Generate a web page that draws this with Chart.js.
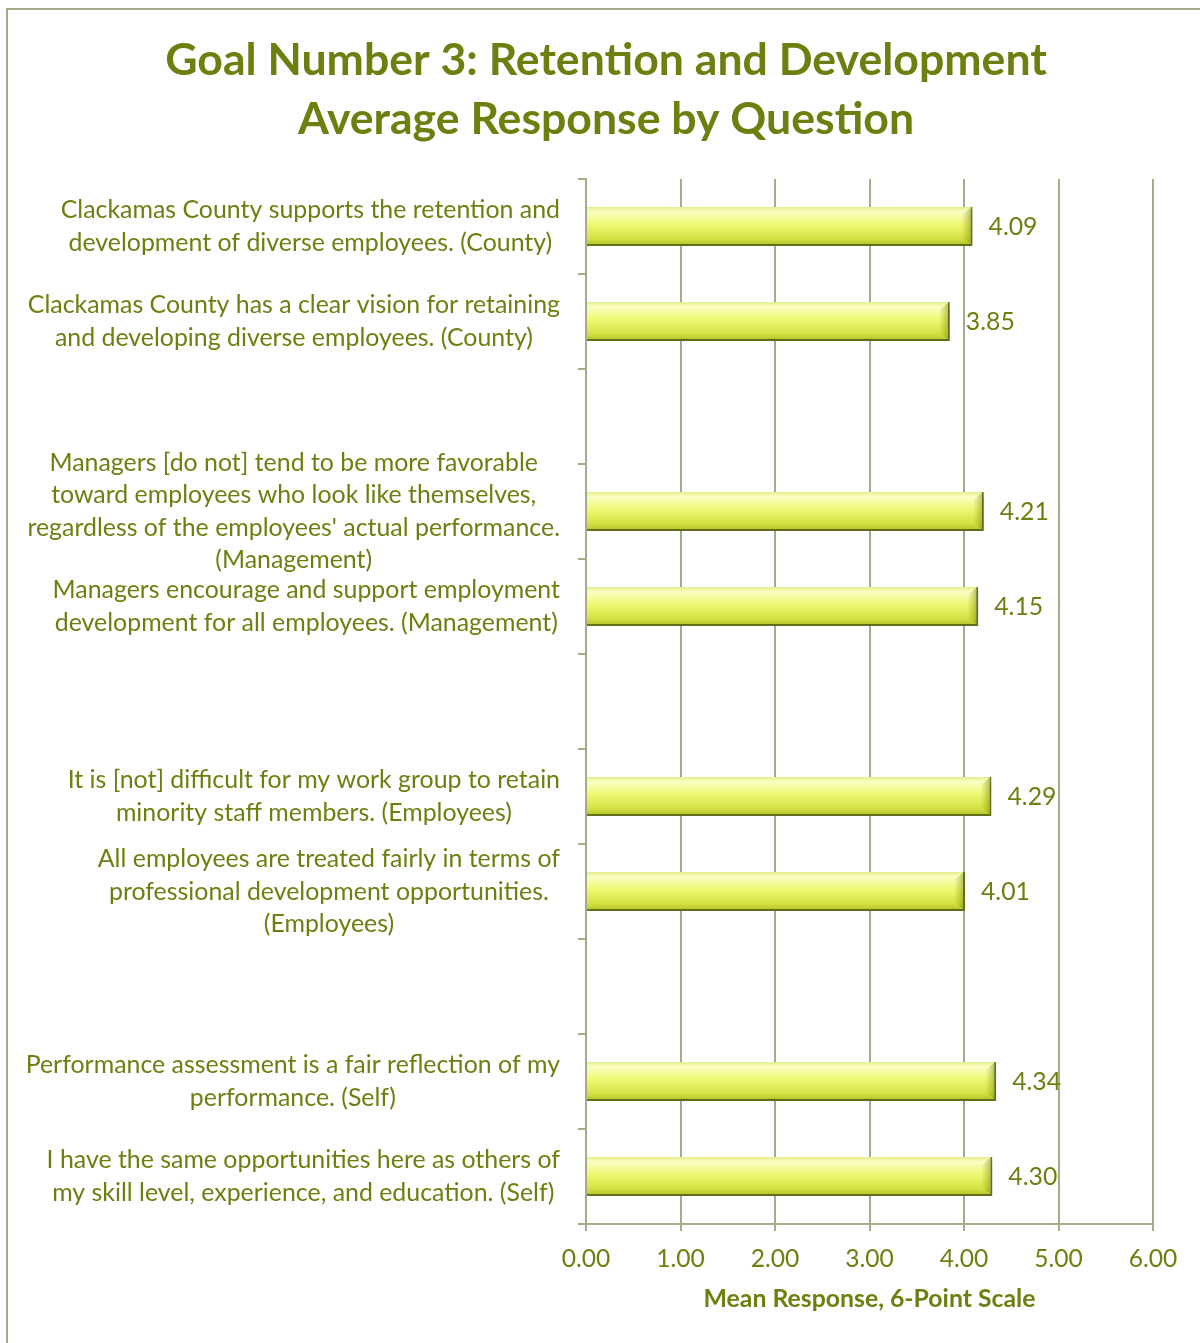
<!DOCTYPE html>
<html>
<head>
<meta charset="utf-8">
<script src="https://cdn.jsdelivr.net/npm/chart.js@4.4.1/dist/chart.umd.min.js"></script>
<style>
  html, body { margin: 0; padding: 0; background: #fff; overflow: hidden; }
  #wrap { position: relative; width: 1200px; height: 1343px; }
</style>
</head>
<body>
<div id="wrap"><canvas id="chart" width="1200" height="1343"></canvas></div>
<script>
// ---- chart content ----
const chartTitle = ['Goal Number 3: Retention and Development', 'Average Response by Question'];
const axisTitle = 'Mean Response, 6-Point Scale';

// question labels; empty strings are spacer rows between question groups
const categories = [
  ['Clackamas County supports the retention and', 'development of diverse employees. (County)'],
  ['Clackamas County has a clear vision for retaining', 'and developing diverse employees. (County)'],
  '',
  ['Managers [do not] tend to be more favorable', 'toward employees who look like themselves,', "regardless of the employees' actual performance.", '(Management)'],
  ['Managers encourage and support employment', 'development for all employees. (Management)'],
  '',
  ['It is [not] difficult for my work group to retain', 'minority staff members. (Employees)'],
  ['All employees are treated fairly in terms of', 'professional development opportunities.', '(Employees)'],
  '',
  ['Performance assessment is a fair reflection of my', 'performance. (Self)'],
  ['I have the same opportunities here as others of', 'my skill level, experience, and education. (Self)']
];
const meanScores = [4.09, 3.85, null, 4.21, 4.15, null, 4.29, 4.01, null, 4.34, 4.30];

const axisMin = 0;
const axisMax = 6;
const axisStep = 1;

// ---- styling ----
const OLIVE = '#6c8010';
const GRID = '#a4ac8c';
const FONT = 'Lato, "Open Sans", sans-serif';
const BAR_PCT = 0.41;

// vertical gradient for each bar, computed from the category scale
function barFill(ctx) {
  const chart = ctx.chart;
  const y = chart.scales && chart.scales.y;
  if (!y || ctx.dataIndex === undefined) return '#e8f270';
  const c = y.getPixelForValue(ctx.dataIndex);
  const slot = Math.abs(y.getPixelForValue(1) - y.getPixelForValue(0));
  if (!isFinite(c) || !isFinite(slot) || slot === 0) return '#e8f270';
  const h = slot * BAR_PCT / 2;
  const g = chart.ctx.createLinearGradient(0, c - h, 0, c + h);
  g.addColorStop(0, '#e4ee88');
  g.addColorStop(0.12, '#fbfec4');
  g.addColorStop(0.45, '#eef872');
  g.addColorStop(0.8, '#d4e244');
  g.addColorStop(1, '#b0c024');
  return g;
}

// outer frame (left and top edges)
const frame = {
  id: 'frame',
  beforeDraw(chart) {
    const c = chart.ctx;
    c.save();
    c.fillStyle = '#fff';
    c.fillRect(0, 0, chart.width, chart.height);
    c.strokeStyle = '#a3ab8a';
    c.lineWidth = 2;
    c.beginPath();
    c.moveTo(7, chart.height);
    c.lineTo(7, 9);
    c.lineTo(chart.width, 9);
    c.stroke();
    c.restore();
  }
};

// soft drop shadow beneath the bars
const barShadow = {
  id: 'barShadow',
  beforeDatasetsDraw(chart) {
    const c = chart.ctx;
    c.save();
    c.shadowColor = 'rgba(60,60,40,0.35)';
    c.shadowBlur = 6;
    c.shadowOffsetX = 3;
    c.shadowOffsetY = 3;
  },
  afterDatasetsDraw(chart) {
    chart.ctx.restore();
  }
};

// bevel on bar ends plus value labels
const barValues = {
  id: 'barValues',
  afterDatasetsDraw(chart) {
    const c = chart.ctx;
    const meta = chart.getDatasetMeta(0);
    c.save();
    meta.data.forEach((el, i) => {
      const v = meanScores[i];
      if (v === null || v === undefined) return;
      if (!isFinite(el.x) || !isFinite(el.y)) return;
      const top = el.y - el.height / 2;
      const bot = el.y + el.height / 2;
      // right-end bevel
      const g = c.createLinearGradient(el.x - 11, 0, el.x - 2, 0);
      g.addColorStop(0, 'rgba(150,165,20,0)');
      g.addColorStop(1, 'rgba(125,140,10,0.5)');
      c.fillStyle = g;
      c.beginPath();
      c.moveTo(el.x - 11, top + 8);
      c.lineTo(el.x - 2, top + 1);
      c.lineTo(el.x - 2, bot - 2);
      c.lineTo(el.x - 11, bot - 9);
      c.closePath();
      c.fill();
      // value text
      c.fillStyle = OLIVE;
      c.font = '24.8px ' + FONT;
      c.textAlign = 'left';
      c.textBaseline = 'middle';
      c.fillText(v.toFixed(2), el.x + 16, el.y + 1);
    });
    c.restore();
  }
};

// question labels: each block right-aligned to the axis, lines centred within the block
const questionLabels = {
  id: 'questionLabels',
  afterDraw(chart) {
    const c = chart.ctx;
    const y = chart.scales.y;
    const right = chart.chartArea.left - 26;
    const lh = 32.5;
    c.save();
    c.font = '24.9px ' + FONT;
    c.fillStyle = OLIVE;
    c.textAlign = 'center';
    c.textBaseline = 'middle';
    categories.forEach((lab, i) => {
      const lines = Array.isArray(lab) ? lab : [lab];
      if (!lines[0]) return;
      const w = Math.max(...lines.map(l => c.measureText(l).width));
      const cx = right - w / 2;
      const cy = y.getPixelForValue(i);
      lines.forEach((l, k) => c.fillText(l, cx, cy + (k - (lines.length - 1) / 2) * lh));
    });
    c.restore();
  }
};

function build() {
  new Chart(document.getElementById('chart'), {
    type: 'bar',
    data: {
      labels: categories,
      datasets: [{
        data: meanScores,
        backgroundColor: barFill,
        borderColor: '#6f7d16',
        borderWidth: { top: 0, left: 0, right: 2, bottom: 2 },
        borderSkipped: false,
        barPercentage: BAR_PCT,
        categoryPercentage: 1
      }]
    },
    options: {
      indexAxis: 'y',
      responsive: false,
      animation: false,
      devicePixelRatio: 1,
      layout: { padding: { left: 12, right: 0, top: 0, bottom: 0 } },
      plugins: {
        legend: { display: false },
        tooltip: { enabled: false },
        title: {
          display: true,
          text: chartTitle,
          color: OLIVE,
          font: { family: FONT, size: 44.6, weight: 'bold', lineHeight: 59 / 44.6 },
          padding: { top: 31, bottom: 30 }
        }
      },
      scales: {
        x: {
          min: axisMin,
          max: axisMax,
          ticks: {
            stepSize: axisStep,
            callback: v => Number(v).toFixed(2),
            color: OLIVE,
            font: { family: FONT, size: 24.6 },
            padding: 13
          },
          grid: { color: GRID, lineWidth: 2, tickLength: 7 },
          border: { color: GRID, width: 2 },
          title: {
            display: true,
            text: axisTitle,
            color: OLIVE,
            font: { family: FONT, size: 24.8, weight: 'bold' },
            padding: { top: 0, bottom: 29 }
          },
          afterFit(s) { s.height = 119; s.paddingRight = 47; }
        },
        y: {
          ticks: { display: false },
          grid: { drawOnChartArea: false, drawTicks: true, tickLength: 8, color: GRID, lineWidth: 2, offset: true },
          border: { color: GRID, width: 2 },
          afterFit(s) { s.width = 574; }
        }
      }
    },
    plugins: [frame, barShadow, barValues, questionLabels]
  });
}

Promise.all([
  document.fonts.load('24px Lato'),
  document.fonts.load('bold 44px Lato')
]).catch(() => {}).then(build);
</script>
</body>
</html>
